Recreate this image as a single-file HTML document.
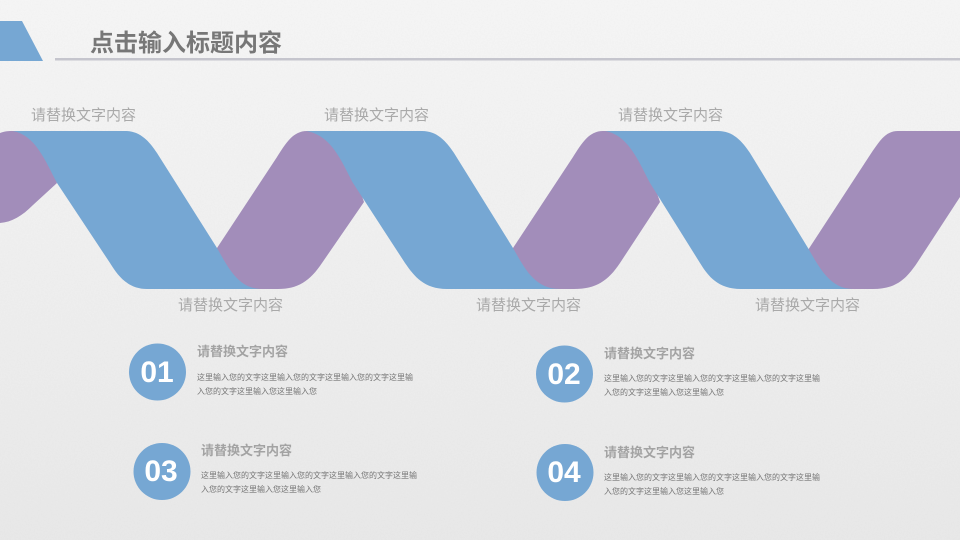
<!DOCTYPE html>
<html><head><meta charset="utf-8"><style>
html,body{margin:0;padding:0}
body{width:960px;height:540px;overflow:hidden;position:relative;background:linear-gradient(#f5f5f5 0,#f0f0f0 40%,#e8e8e8 100%);font-family:"Liberation Sans","Noto Sans CJK SC",sans-serif}
svg{position:absolute;left:0;top:0}
.t{position:absolute;white-space:nowrap}
.l{font-size:15px;line-height:20px;color:#a9a9a9}
.h{font-size:13px;line-height:18px;color:#a3a3a3;font-weight:bold}
.b{font-size:8px;line-height:14px;color:#757575;white-space:nowrap}
.n{position:absolute;color:#fff;font-weight:bold;font-size:30px;line-height:34px;text-align:center;width:60px}
</style></head><body>
<svg width="960" height="540" viewBox="0 0 960 540">
<defs><filter id="p" x="0" y="0" width="100%" height="100%"><feTurbulence type="fractalNoise" baseFrequency="0.7" numOctaves="2" seed="3"/><feColorMatrix type="matrix" values="0 0 0 0 0.5  0 0 0 0 0.5  0 0 0 0 0.5  0.9 0 0 0 -0.3"/></filter></defs>
<rect width="960" height="540" filter="url(#p)" opacity="0.12"/>
<polygon points="0,21 22,21 43,61 0,61" fill="#76a7d3"/>
<rect x="55" y="58" width="905" height="2.500" fill="#c5c5cd"/>
<g fill="#a28dba">
<path d="M0,133 C5,131 9,131 13,131 L40,131 L57,183 L33,205 C22,216 12,222 0,223 Z"/>
<path d="M217,248 L277,157 C286,143 293,131 307,131 L340,131 L364,202 L322,263 C310,281 298,289 278,289 L200,289 Z"/>
<path d="M513,248 L573,157 C582,143 589,131 603,131 L636,131 L660,202 L620,263 C608,281 596,289 574,289 L496,289 Z"/>
<path d="M808,250 L870,155 C880,140 886,131 898,131 L960,131 L960,197 L917,263 C905,281 894,289 873,289 L790,289 Z"/>
</g>
<g fill="#76a7d3">
<path d="M13,131 L125,131 C140,131 149,141 157,153 L217,248 C228,267 238,289 262,289 L147,289 C128,289 118,276 110,263 L57,183 C45,160 35,135 13,131 Z"/>
<path d="M306,131 L422,131 C437,131 446,141 454,153 L513,248 C524,267 534,289 560,289 L447,289 C424,289 414,276 405,263 L353,183 C341,160 331,135 306,131 Z"/>
<path d="M605,131 L718,131 C733,131 742,141 750,153 L808,248 C819,267 830,289 853,289 L741,289 C718,289 708,276 700,263 L650,183 C638,160 628,135 605,131 Z"/>
</g>
<circle cx="157.500" cy="372" r="28.500" fill="#76a7d3"/>
<circle cx="162" cy="471.500" r="28.500" fill="#76a7d3"/>
<circle cx="564.500" cy="374" r="28.500" fill="#76a7d3"/>
<circle cx="565" cy="472.500" r="28.500" fill="#76a7d3"/>
</svg>
<div class="t" style="left:90px;top:29px;font-size:24px;line-height:30px;font-weight:bold;color:#777">点击输入标题内容</div>
<div class="t l" style="left:31px;top:106px">请替换文字内容</div>
<div class="t l" style="left:324px;top:106px">请替换文字内容</div>
<div class="t l" style="left:618px;top:106px">请替换文字内容</div>
<div class="t l" style="left:178px;top:296px">请替换文字内容</div>
<div class="t l" style="left:476px;top:296px">请替换文字内容</div>
<div class="t l" style="left:755px;top:296px">请替换文字内容</div>
<div class="n" style="left:127px;top:356px">01</div>
<div class="n" style="left:131px;top:455px">03</div>
<div class="n" style="left:534px;top:358px">02</div>
<div class="n" style="left:534px;top:456px">04</div>
<div class="t h" style="left:197px;top:343px">请替换文字内容</div>
<div class="t b" style="left:197px;top:371px">这里输入您的文字这里输入您的文字这里输入您的文字这里输<br>入您的文字这里输入您这里输入您</div>
<div class="t h" style="left:201px;top:442px">请替换文字内容</div>
<div class="t b" style="left:201px;top:469px">这里输入您的文字这里输入您的文字这里输入您的文字这里输<br>入您的文字这里输入您这里输入您</div>
<div class="t h" style="left:604px;top:345px">请替换文字内容</div>
<div class="t b" style="left:604px;top:372px">这里输入您的文字这里输入您的文字这里输入您的文字这里输<br>入您的文字这里输入您这里输入您</div>
<div class="t h" style="left:604px;top:444px">请替换文字内容</div>
<div class="t b" style="left:604px;top:471px">这里输入您的文字这里输入您的文字这里输入您的文字这里输<br>入您的文字这里输入您这里输入您</div>
</body></html>
